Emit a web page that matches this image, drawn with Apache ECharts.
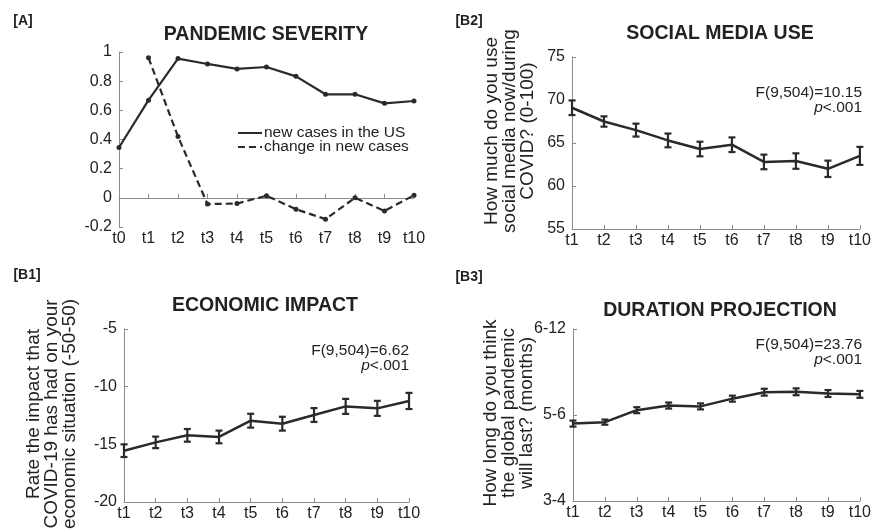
<!DOCTYPE html>
<html><head><meta charset="utf-8">
<script src="https://cdn.jsdelivr.net/npm/echarts@6/dist/echarts.min.js"></script>
<style>html,body{margin:0;padding:0;background:#fff}#c{width:874px;height:532px}</style>
</head><body><div id="c"></div>
<script>
const catsA = ['t0','t1','t2','t3','t4','t5','t6','t7','t8','t9','t10'];
const catsB = ['t1','t2','t3','t4','t5','t6','t7','t8','t9','t10'];
const newCases = [0.345,0.67,0.955,0.918,0.884,0.897,0.833,0.71,0.71,0.648,0.664];
const changeCases = [null,0.96,0.42,-0.043,-0.039,0.014,-0.078,-0.146,0.0,-0.09,0.018];
const socialMean = [69.1,67.5,66.5,65.3,64.3,64.8,62.8,62.9,62.0,63.5];
const socialErr = [0.85,0.6,0.75,0.8,0.85,0.85,0.85,0.9,0.95,1.05];
const econMean = [-15.55,-14.83,-14.22,-14.36,-12.95,-13.21,-12.46,-11.71,-11.88,-11.24];
const econErr = [0.55,0.5,0.55,0.55,0.6,0.6,0.6,0.65,0.65,0.7];
const durMean = [1.90,1.917,2.056,2.11,2.10,2.19,2.265,2.27,2.25,2.24];
const durErr = [0.035,0.03,0.035,0.035,0.035,0.035,0.04,0.04,0.04,0.04];
const durTickLabels = {1:'3-4', 2:'5-6', 3:'6-12'};

const C = '#2a2a2a', AX = '#8a8a8a', TXT = '#222';
const FF = '"Liberation Sans", Arial, Helvetica, sans-serif';

const chart = echarts.init(document.getElementById('c'), null, {renderer:'canvas'});

function xAxis(gi, cats){
  return {type:'category', gridIndex:gi, data:cats, boundaryGap:false,
    axisLine:{lineStyle:{color:AX, width:1}},
    axisTick:{inside:true, length:4, lineStyle:{color:AX}},
    axisLabel:{color:TXT, fontSize:16, fontFamily:FF, margin:4, interval:0},
    splitLine:{show:false}};
}
function yAxis(gi, min, max, interval, fmt){
  return {type:'value', gridIndex:gi, min, max, interval,
    axisLine:{show:true, lineStyle:{color:AX, width:1}},
    axisTick:{show:true, inside:true, length:4, lineStyle:{color:AX}},
    axisLabel:{color:TXT, fontSize:16, fontFamily:FF, margin:7, formatter:fmt},
    splitLine:{show:false}};
}
function errData(means, errs){ return means.map((m,i)=>[i, m-errs[i], m+errs[i]]); }
function errRender(params, api){
  const x = api.value(0), lo = api.value(1), hi = api.value(2);
  const p1 = api.coord([x, hi]), p2 = api.coord([x, lo]);
  const w = 3.5;
  const st = {stroke:C, lineWidth:2.2, fill:null};
  return {type:'group', children:[
    {type:'line', shape:{x1:p1[0],y1:p1[1],x2:p2[0],y2:p2[1]}, style:st},
    {type:'line', shape:{x1:p1[0]-w,y1:p1[1],x2:p1[0]+w,y2:p1[1]}, style:st},
    {type:'line', shape:{x1:p2[0]-w,y1:p2[1],x2:p2[0]+w,y2:p2[1]}, style:st}
  ]};
}
function txt(x, y, text, opt){
  return Object.assign({type:'text', x, y, silent:true,
    style:Object.assign({text, fill:TXT, fontFamily:FF, fontSize:16, align:'center', verticalAlign:'middle'}, opt||{})});
}
function stat(x, y, f){
  return [txt(x, y, f, {align:'right', fontSize:15.5}),
          txt(x, y+15, '{i|p}<.001', {align:'right', fontSize:15.5, rich:{i:{fontStyle:'italic', fontSize:15.5, fontFamily:FF, fill:TXT}}})];
}
function ylab(x, y, text){
  return {type:'text', x, y, rotation:Math.PI/2, silent:true,
    style:{text, fill:TXT, fontFamily:FF, fontSize:19, lineHeight:18, align:'center', verticalAlign:'middle'}};
}

const option = {
  animation:false,
  backgroundColor:'#fff',
  grid:[
    {left:119, top:52, width:295, height:175},
    {left:572, top:57, width:290, height:172},
    {left:124, top:329, width:285, height:173},
    {left:573, top:329, width:290, height:172}
  ],
  xAxis:[xAxis(0,catsA), xAxis(1,catsB), xAxis(2,catsB), xAxis(3,catsB)],
  yAxis:[
    yAxis(0,-0.2,1,0.2,v=>String(Math.round(v*10)/10)),
    yAxis(1,55,75,5),
    yAxis(2,-20,-5,5),
    yAxis(3,1,3,1,v=>durTickLabels[Math.round(v)]||'')
  ],
  series:[
    {name:'new cases in the US', type:'line', xAxisIndex:0, yAxisIndex:0, data:newCases,
      symbol:'circle', symbolSize:5, itemStyle:{color:C}, lineStyle:{color:C, width:2.2}},
    {name:'change in new cases', type:'line', xAxisIndex:0, yAxisIndex:0, data:changeCases,
      symbol:'circle', symbolSize:5, itemStyle:{color:C}, lineStyle:{color:C, width:2.2, type:[7,4]}},
    {type:'line', xAxisIndex:1, yAxisIndex:1, data:socialMean, symbol:'none', lineStyle:{color:C, width:2.5}},
    {type:'custom', xAxisIndex:1, yAxisIndex:1, data:errData(socialMean, socialErr), renderItem:errRender, encode:{x:0, y:[1,2]}},
    {type:'line', xAxisIndex:2, yAxisIndex:2, data:econMean, symbol:'none', lineStyle:{color:C, width:2.5}},
    {type:'custom', xAxisIndex:2, yAxisIndex:2, data:errData(econMean, econErr), renderItem:errRender, encode:{x:0, y:[1,2]}},
    {type:'line', xAxisIndex:3, yAxisIndex:3, data:durMean, symbol:'none', lineStyle:{color:C, width:2.5}},
    {type:'custom', xAxisIndex:3, yAxisIndex:3, data:errData(durMean, durErr), renderItem:errRender, encode:{x:0, y:[1,2]}}
  ],
  graphic:[
    txt(23, 21, '[A]', {fontSize:14, fontWeight:'bold'}),
    txt(469, 21, '[B2]', {fontSize:14, fontWeight:'bold'}),
    txt(27, 275, '[B1]', {fontSize:14, fontWeight:'bold'}),
    txt(469, 277, '[B3]', {fontSize:14, fontWeight:'bold'}),
    txt(266, 35, 'PANDEMIC SEVERITY', {fontSize:19.5, fontWeight:'bold'}),
    txt(720, 34, 'SOCIAL MEDIA USE', {fontSize:19.5, fontWeight:'bold'}),
    txt(265, 306, 'ECONOMIC IMPACT', {fontSize:19.5, fontWeight:'bold'}),
    txt(720, 311, 'DURATION PROJECTION', {fontSize:19.5, fontWeight:'bold'}),
    ...stat(862, 93, 'F(9,504)=10.15'),
    ...stat(409, 351, 'F(9,504)=6.62'),
    ...stat(862, 345, 'F(9,504)=23.76'),
    ylab(510, 131, 'How much do you use\nsocial media now/during\nCOVID? (0-100)'),
    ylab(52, 414, 'Rate the impact that\nCOVID-19 has had on your\neconomic situation (-50-50)'),
    ylab(509, 413, 'How long do you think\nthe global pandemic\nwill last? (months)'),
    {type:'line', silent:true, shape:{x1:238,y1:133,x2:262,y2:133}, style:{stroke:C, lineWidth:2}},
    {type:'line', silent:true, shape:{x1:238,y1:147,x2:262,y2:147}, style:{stroke:C, lineWidth:2, lineDash:[7,4]}},
    txt(264, 133, 'new cases in the US', {align:'left', fontSize:15.5}),
    txt(264, 147, 'change in new cases', {align:'left', fontSize:15.5})
  ]
};
chart.setOption(option);
</script></body></html>
